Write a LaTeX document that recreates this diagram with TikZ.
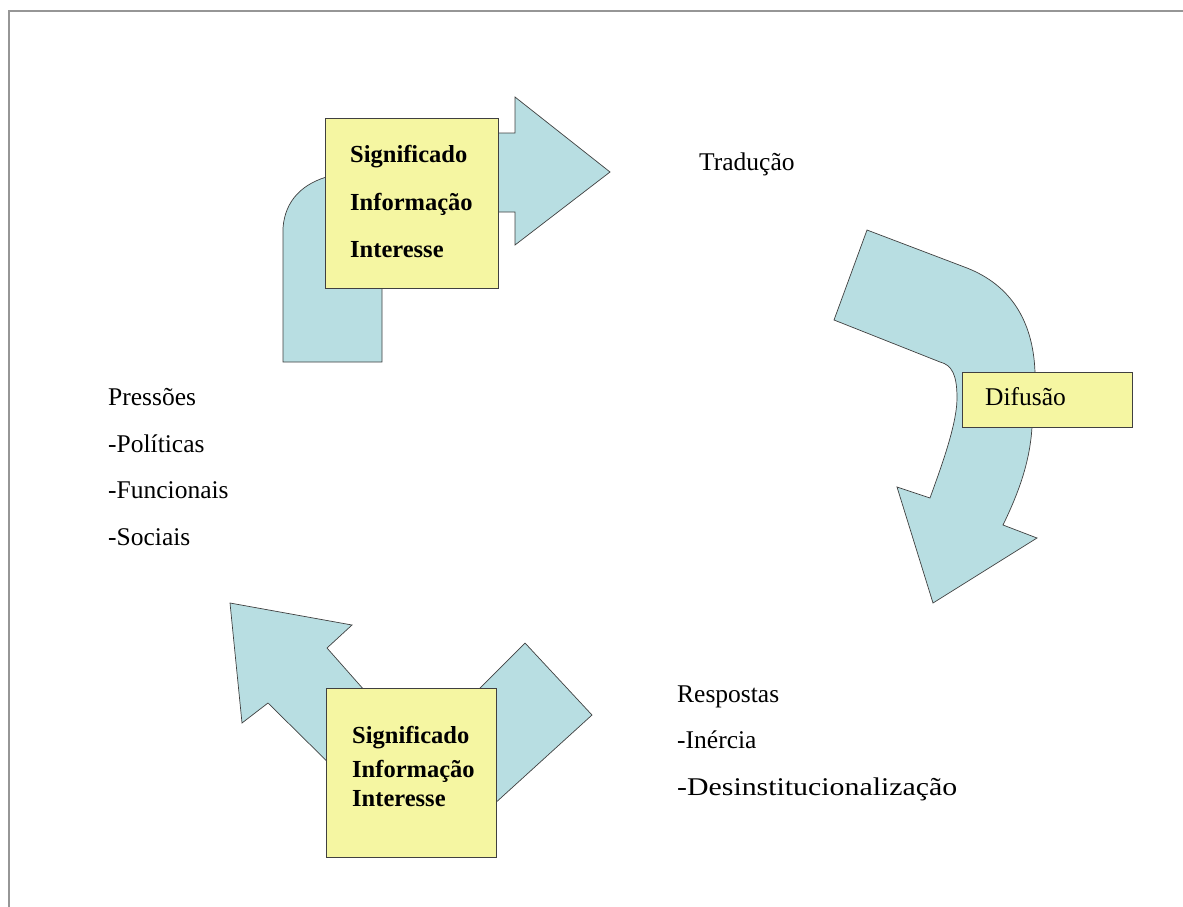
\documentclass[tikz,border=0pt]{standalone}
\usepackage{fontspec}
\setmainfont{Liberation Serif}
\usepackage{graphicx}
\definecolor{arrowblue}{RGB}{184,222,226}
\definecolor{boxyellow}{RGB}{245,246,162}
\definecolor{framegray}{RGB}{150,150,150}
\begin{document}
\begin{tikzpicture}[x=1pt,y=-1pt,
  bluearrow/.style={fill=arrowblue,draw=black!75,line width=0.7pt,line join=miter},
  yellowbox/.style={fill=boxyellow,draw=black!75,line width=0.8pt},
  plain/.style={anchor=base west,inner sep=0pt,font=\fontsize{25.5}{30}\selectfont},
  boxtext/.style={anchor=base west,inner sep=0pt,font=\fontsize{24.5}{28}\selectfont\bfseries}]
\useasboundingbox (0,0) rectangle (1183,907);
% frame (top and left only)
\coordinate (fTL) at (9,11);
\coordinate (fTR) at (1183,11);
\coordinate (fBL) at (9,907);
\draw[framegray,line width=1.6pt] (fBL) -- (fTL) -- (fTR);

% ---- top-left bent arrow
\draw[bluearrow] (283,362) -- (283,228) .. controls (285,200) and (303,183) .. (330,176)
  -- (340,133) -- (515,133) -- (515,97) -- (610,172) -- (515,245) -- (515,212)
  -- (382,212) -- (382,362) -- cycle;
\node[yellowbox,minimum width=173pt,minimum height=170pt,inner sep=0pt] (topbox) at (411.5,203) {};
\node[boxtext] (t1) at (350,162) {Significado};
\node[boxtext] (t2) at (350,210) {Informação};
\node[boxtext] (t3) at (350,257) {Interesse};

% ---- right curved arrow (Difusão)
\draw[bluearrow] (867,230) -- (967,268) .. controls (1010,285) and (1033,320) .. (1035,372)
  -- (1032,427) .. controls (1030,460) and (1020,490) .. (1003,525)
  -- (1037,538) -- (933,603) -- (897,487) -- (930,498)
  .. controls (940,470) and (957,425) .. (957,398)
  .. controls (957,375) and (952,365) .. (940,362)
  -- (834,320) -- cycle;
\node[yellowbox,minimum width=170pt,minimum height=55pt,inner sep=0pt] (difbox) at (1047,399.5) {};
\node[plain] (dif) at (985,405) {Difusão};

% ---- bottom arrows
\draw[bluearrow] (230,603) -- (352,625) -- (327,648) -- (380,708) -- (350,784)
  -- (268,703) -- (242,723) -- cycle;
\draw[bluearrow] (525,643) -- (592,715) -- (470,826) -- (460,708) -- cycle;
\node[yellowbox,minimum width=170pt,minimum height=169pt,inner sep=0pt] (botbox) at (411,772.5) {};
\node[boxtext] (b1) at (352,743) {Significado};
\node[boxtext] (b2) at (352,777) {Informação};
\node[boxtext] (b3) at (352,806) {Interesse};

% ---- free labels
\node[plain] (trad) at (699,170) {Tradução};
\node[plain] (p1) at (108,405) {Pressões};
\node[plain] (p2) at (108,452) {-Políticas};
\node[plain] (p3) at (108,498) {-Funcionais};
\node[plain] (p4) at (108,545) {-Sociais};
\node[plain] (r1) at (677,702) {Respostas};
\node[plain] (r2) at (677,748) {-Inércia};
\node[plain] (r3) at (677,795) {\scalebox{1.17}[1]{-Desinstitucionalização}};
\end{tikzpicture}
\end{document}
